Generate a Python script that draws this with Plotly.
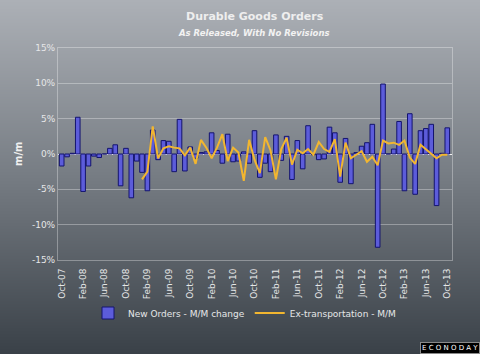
import base64, struct, zlib
import pandas as pd
import plotly.graph_objects as go

# ---- data ----
months = pd.date_range("2007-10-01", "2013-10-01", freq="MS").strftime("%b-%y").tolist()

new_orders = [
    -1.7, -0.4, 0.1,                                            # Oct-Dec 07
    5.2, -5.3, -1.7, -0.3, -0.5, 0.0, 0.8, 1.3, -4.5, 0.8, -6.2, -1.0,   # 2008
    -2.6, -5.2, 3.4, -0.8, 1.9, 1.8, -2.5, 4.9, -2.4, 1.0, -0.6, 0.2,    # 2009
    0.3, 3.0, 0.5, -1.3, 2.8, -1.1, -1.0, 0.3, -1.3, 3.3, -3.3, -1.3,    # 2010
    -2.5, 2.7, -0.9, 2.5, -3.6, 1.9, -2.1, 4.0, -0.1, -0.8, -0.7, 3.8,   # 2011
    3.0, -4.0, 2.2, -4.2, 0.2, 1.1, 1.6, 4.2, -13.2, 9.9, 0.0, 0.7,      # 2012
    4.6, -5.2, 5.7, -5.7, 3.3, 3.6, 4.2, -7.3, 0.1, 3.7,                 # 2013
]

ex_start = "Jan-09"
ex_trans = [
    -3.6, -2.5, 3.9, -0.6, 0.8, 1.1, 0.9, 0.8, -0.2, 0.9, -1.4, 2.0,     # 2009
    0.9, -0.6, 0.9, 2.8, -1.0, 0.9, 0.2, -3.8, 2.0, -0.8, -2.7, 2.4,     # 2010
    0.5, -3.6, 0.7, 2.3, -1.5, 0.6, 0.1, 0.7, -0.1, 1.7, 0.7, 0.3,       # 2011
    2.1, -3.2, 1.6, -0.6, -0.1, 0.4, -1.1, -0.4, -1.6, 1.9, 1.5, 1.6,    # 2012
    1.3, 1.9, -0.5, -1.4, 1.3, 0.7, 0.0, -0.6, -0.1, -0.1,               # 2013
]

x_ticks = months[::4]
y_ticks = [-15, -10, -5, 0, 5, 10, 15]
y_ticktext = ["-15%", "-10%", "-5%", "0%", "5%", "10%", "15%"]

title = "Durable Goods Orders"
subtitle = "As Released, With No Revisions"
y_title = "m/m"

# ---- background gradient image ----
def gradient_png(stops, h, w=4):
    rows = []
    for i in range(h):
        t = i / (h - 1)
        for k in range(len(stops) - 1):
            if stops[k][0] <= t <= stops[k + 1][0]:
                a, b = stops[k], stops[k + 1]
                f = (t - a[0]) / (b[0] - a[0]) if b[0] > a[0] else 0
                c = [round(a[1][j] + (b[1][j] - a[1][j]) * f) for j in range(3)]
                break
        rows.append(b"\x00" + bytes(c) * w)
    raw = b"".join(rows)

    def chunk(tag, data):
        return struct.pack(">I", len(data)) + tag + data + struct.pack(">I", zlib.crc32(tag + data) & 0xFFFFFFFF)

    png = (b"\x89PNG\r\n\x1a\n"
           + chunk(b"IHDR", struct.pack(">IIBBBBB", w, h, 8, 2, 0, 0, 0))
           + chunk(b"IDAT", zlib.compress(raw))
           + chunk(b"IEND", b""))
    return "data:image/png;base64," + base64.b64encode(png).decode()

bg = gradient_png([(0.0, (172, 176, 182)), (0.5, (118, 124, 131)), (1.0, (58, 65, 72))], 354)

W, H = 480, 354
px = lambda v: v / W
py = lambda v: (H - v) / H

FONT = "DejaVu Sans"
TXT = "#e6e7e8"

fig = go.Figure()
fig.add_trace(go.Bar(
    x=months, y=new_orders, name="New Orders - M/M change",
    marker=dict(color="#5c5cda", line=dict(color="#14146e", width=1)),
    width=0.86,
))
ex_idx = months.index(ex_start)
fig.add_trace(go.Scatter(
    x=months[ex_idx:], y=ex_trans, mode="lines", name="Ex-transportation - M/M",
    line=dict(color="#f2b630", width=2),
))

grid = "rgba(255,255,255,0.32)"
fig.update_layout(
    width=W, height=H, autosize=False,
    margin=dict(l=0, r=0, t=0, b=0, autoexpand=False),
    paper_bgcolor="rgba(0,0,0,0)", plot_bgcolor="rgba(0,0,0,0)",
    font=dict(family=FONT, size=9, color=TXT),
    showlegend=True,
    legend=dict(orientation="h", x=px(88), y=py(313), xanchor="left", yanchor="middle",
                font=dict(family=FONT, size=9, color=TXT), bgcolor="rgba(0,0,0,0)",
                traceorder="normal", itemwidth=30),
    xaxis=dict(type="category", domain=[px(58), px(452)], range=[-0.69, 72.88],
               tickmode="array", tickvals=x_ticks, ticktext=x_ticks, tickangle=-90,
               showgrid=False, showline=True, linecolor=grid, mirror=True,
               ticks="outside", ticklen=4, tickcolor="rgba(0,0,0,0)",
               tickfont=dict(family=FONT, size=9, color=TXT)),
    yaxis=dict(domain=[py(260), py(48)], range=[-15, 15],
               tickmode="array", tickvals=y_ticks, ticktext=y_ticktext,
               showgrid=True, gridcolor=grid, gridwidth=1,
               zeroline=True, zerolinecolor="#f4f4f4", zerolinewidth=1,
               showline=True, linecolor=grid, mirror=True,
               ticks="", tickfont=dict(family=FONT, size=9, color=TXT)),
    images=[dict(source=bg, xref="paper", yref="paper", x=0, y=1, sizex=1, sizey=1,
                 xanchor="left", yanchor="top", sizing="stretch", layer="below")],
    annotations=[
        dict(text="<b>" + title + "</b>", xref="paper", yref="paper", x=px(255), y=py(17),
             showarrow=False, font=dict(family=FONT, size=11, color="#eeeeee"),
             xanchor="center", yanchor="middle"),
        dict(text="<b><i>" + subtitle + "</i></b>", xref="paper", yref="paper", x=px(254), y=py(33),
             showarrow=False, font=dict(family=FONT, size=8.5, color="#f2f2f2"),
             xanchor="center", yanchor="middle"),
        dict(text="<b>" + y_title + "</b>", xref="paper", yref="paper", x=px(18), y=py(154),
             showarrow=False, textangle=-90, font=dict(family=FONT, size=10, color="#f0f0f0"),
             xanchor="center", yanchor="middle"),
        dict(text="E C O N O D A Y", xref="paper", yref="paper", x=1, y=0,
             xanchor="right", yanchor="bottom", showarrow=False,
             font=dict(family=FONT, size=7, color="#ffffff"),
             bgcolor="#000000", bordercolor="#8a8a8a", borderwidth=1, borderpad=1),
    ],
)

fig.write_html("out.html")
